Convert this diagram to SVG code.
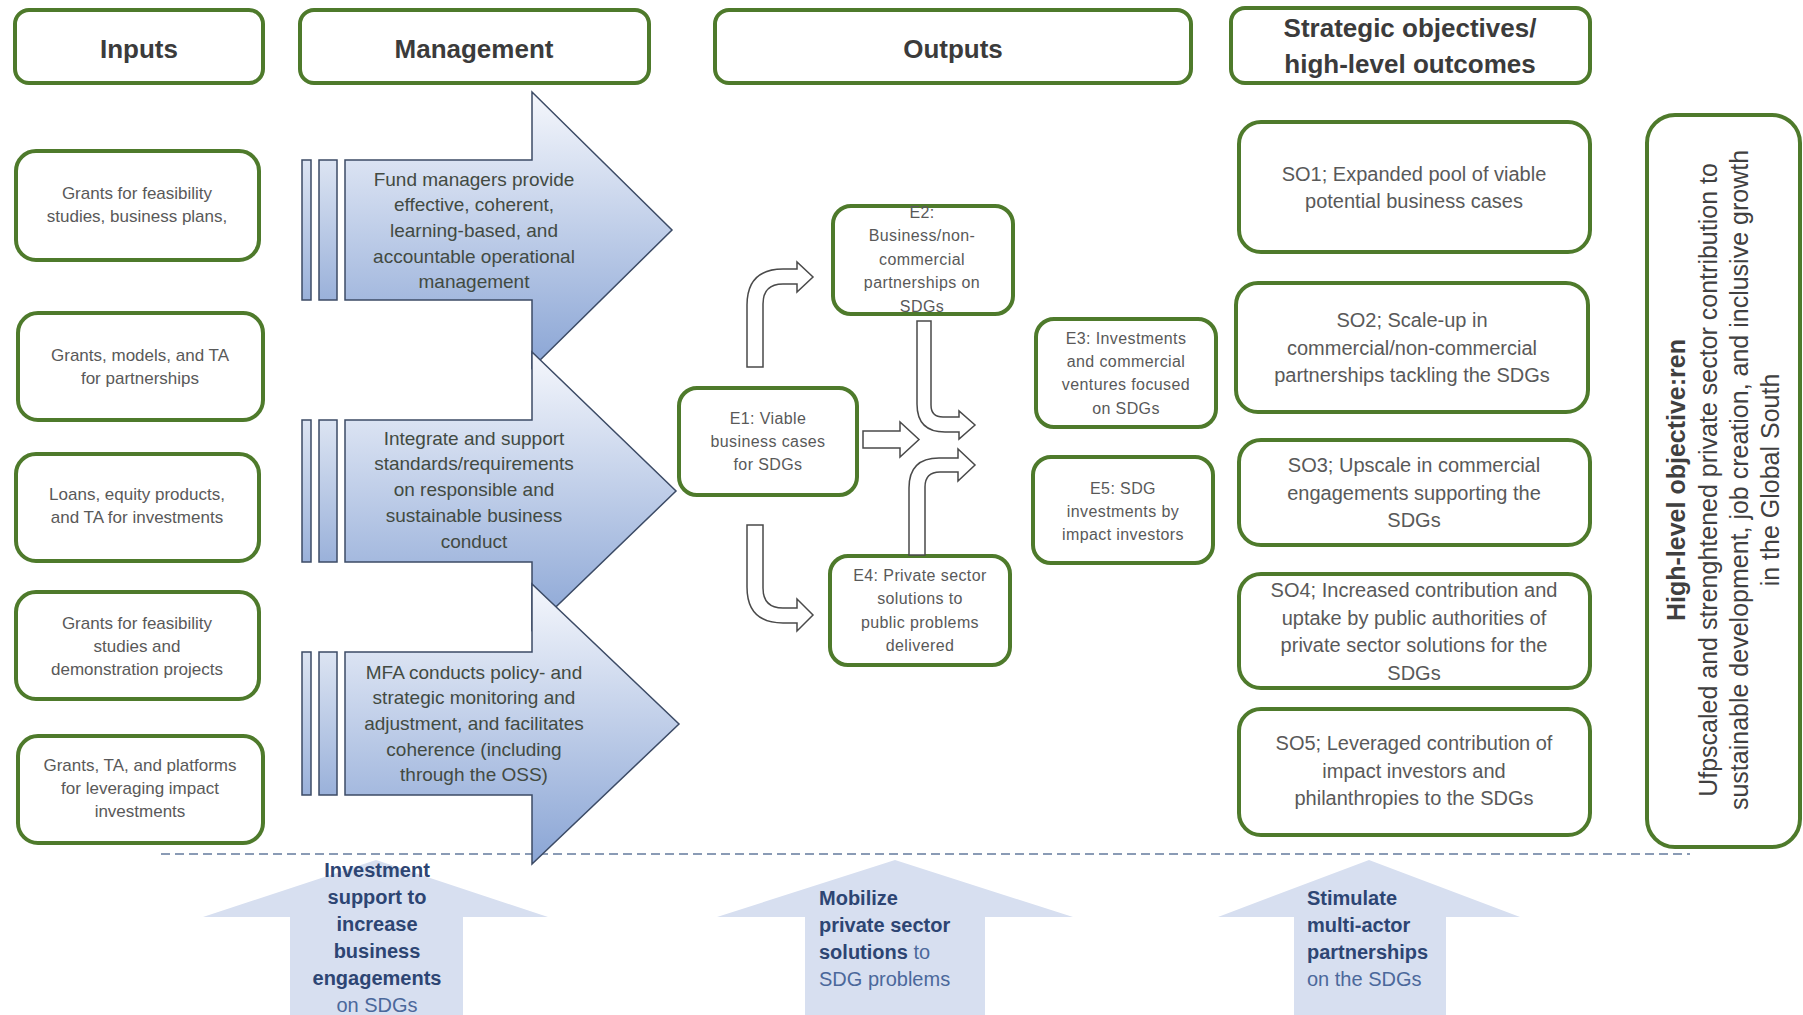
<svg xmlns="http://www.w3.org/2000/svg" width="1803" height="1015" viewBox="0 0 1803 1015">
<defs>
<linearGradient id="mgmtGrad" x1="0" y1="0" x2="0" y2="1">
<stop offset="0" stop-color="#f5f7fc"/>
<stop offset="1" stop-color="#8aa5d5"/>
</linearGradient>
<linearGradient id="barGrad" x1="0" y1="0" x2="0" y2="1">
<stop offset="0" stop-color="#dce4f2"/>
<stop offset="1" stop-color="#9ab1da"/>
</linearGradient>
<style>
.box{fill:#ffffff;stroke:#4e7a2b;stroke-width:4}
.hdr{font-family:"Liberation Sans",Arial,sans-serif;font-weight:bold;font-size:26px;fill:#3b3b3b;text-anchor:middle}
.inp{font-family:"Liberation Sans",Arial,sans-serif;font-size:17px;fill:#595959;text-anchor:middle}
.eb{font-family:"Liberation Sans",Arial,sans-serif;font-size:16px;letter-spacing:0.4px;fill:#595959;text-anchor:middle}
.so{font-family:"Liberation Sans",Arial,sans-serif;font-size:20px;fill:#595959;text-anchor:middle}
.mg{fill:url(#mgmtGrad);stroke:#3c4b66;stroke-width:1.5}
.bar{fill:url(#barGrad);stroke:#3c4b66;stroke-width:1.5}
.mgt{font-family:"Liberation Sans",Arial,sans-serif;font-size:19px;fill:#424a42;text-anchor:middle}
.conn{fill:#ffffff;stroke:#4a4a4a;stroke-width:1.5;stroke-linejoin:miter}
.bot{fill:#d7dff0}
.bt{font-family:"Liberation Sans",Arial,sans-serif;font-size:20px;fill:#4b689b}
.bb{font-weight:bold;fill:#2d4573}
.hl{font-family:"Liberation Sans",Arial,sans-serif;font-size:25px;fill:#404040;text-anchor:middle}
</style>
</defs>
<rect width="1803" height="1015" fill="#ffffff"/>

<!-- headers -->
<g id="hdr-inputs"><rect class="box" x="15" y="10" width="248" height="73" rx="14"/><text class="hdr" x="139" y="58">Inputs</text></g>
<g id="hdr-management"><rect class="box" x="300" y="10" width="349" height="73" rx="14"/><text class="hdr" x="474" y="58">Management</text></g>
<g id="hdr-outputs"><rect class="box" x="715" y="10" width="476" height="73" rx="14"/><text class="hdr" x="953" y="58">Outputs</text></g>
<g id="hdr-strategic"><rect class="box" x="1231" y="8" width="359" height="75" rx="14"/><text class="hdr" x="1410" y="37">Strategic objectives/</text><text class="hdr" x="1410" y="73">high-level outcomes</text></g>

<!-- inputs -->
<g id="in1"><rect class="box" x="16" y="151" width="243" height="109" rx="20"/><text class="inp" x="137" y="199">Grants for feasibility</text><text class="inp" x="137" y="222">studies, business plans,</text></g>
<g id="in2"><rect class="box" x="18" y="313" width="245" height="107" rx="20"/><text class="inp" x="140" y="361">Grants, models, and TA</text><text class="inp" x="140" y="384">for partnerships</text></g>
<g id="in3"><rect class="box" x="16" y="454" width="243" height="107" rx="20"/><text class="inp" x="137" y="500">Loans, equity products,</text><text class="inp" x="137" y="523">and TA for investments</text></g>
<g id="in4"><rect class="box" x="16" y="592" width="243" height="107" rx="20"/><text class="inp" x="137" y="629">Grants for feasibility</text><text class="inp" x="137" y="652">studies and</text><text class="inp" x="137" y="675">demonstration projects</text></g>
<g id="in5"><rect class="box" x="18" y="736" width="245" height="107" rx="20"/><text class="inp" x="140" y="771">Grants, TA, and platforms</text><text class="inp" x="140" y="794">for leveraging impact</text><text class="inp" x="140" y="817">investments</text></g>

<!-- dashed separator -->
<line x1="161" y1="854" x2="1690" y2="854" stroke="#8a9bb5" stroke-width="2" stroke-dasharray="9 5"/>

<!-- bottom arrows -->
<g id="bot1"><polygon class="bot" points="376,860 548,917 463,917 463,1020 290,1020 290,917 203,917"/>
<text class="bt" text-anchor="middle"><tspan class="bb" x="377" y="877">Investment</tspan><tspan class="bb" x="377" y="904">support to</tspan><tspan class="bb" x="377" y="931">increase</tspan><tspan class="bb" x="377" y="958">business</tspan><tspan class="bb" x="377" y="985">engagements</tspan><tspan x="377" y="1012">on SDGs</tspan></text></g>
<g id="bot2"><polygon class="bot" points="895,860 1073,917 985,917 985,1020 805,1020 805,917 717,917"/>
<text class="bt"><tspan class="bb" x="819" y="905">Mobilize</tspan><tspan class="bb" x="819" y="932">private sector</tspan><tspan class="bb" x="819" y="959">solutions</tspan><tspan> to</tspan><tspan x="819" y="986">SDG problems</tspan></text></g>
<g id="bot3"><polygon class="bot" points="1369,860 1520,917 1446,917 1446,1020 1294,1020 1294,917 1218,917"/>
<text class="bt"><tspan class="bb" x="1307" y="905">Stimulate</tspan><tspan class="bb" x="1307" y="932">multi-actor</tspan><tspan class="bb" x="1307" y="959">partnerships</tspan><tspan x="1307" y="986">on the SDGs</tspan></text></g>

<!-- management arrows -->
<g id="mgmt1">
<rect class="bar" x="302" y="160" width="9" height="140"/><rect class="bar" x="319" y="160" width="18" height="140"/>
<path class="mg" d="M345 160 L532 160 L532 92 L672 230 L532 368 L532 300 L345 300 Z"/>
<text class="mgt"><tspan x="474" y="186">Fund managers provide</tspan><tspan x="474" y="211">effective, coherent,</tspan><tspan x="474" y="237">learning-based, and</tspan><tspan x="474" y="263">accountable operational</tspan><tspan x="474" y="288">management</tspan></text>
</g>
<g id="mgmt2">
<rect class="bar" x="302" y="420" width="9" height="142"/><rect class="bar" x="319" y="420" width="18" height="142"/>
<path class="mg" d="M345 420 L532 420 L532 352 L676 491 L532 630 L532 562 L345 562 Z"/>
<text class="mgt"><tspan x="474" y="445">Integrate and support</tspan><tspan x="474" y="470">standards/requirements</tspan><tspan x="474" y="496">on responsible and</tspan><tspan x="474" y="522">sustainable business</tspan><tspan x="474" y="548">conduct</tspan></text>
</g>
<g id="mgmt3">
<rect class="bar" x="302" y="652" width="9" height="143"/><rect class="bar" x="319" y="652" width="18" height="143"/>
<path class="mg" d="M345 652 L532 652 L532 584 L679 724 L532 864 L532 795 L345 795 Z"/>
<text class="mgt"><tspan x="474" y="679">MFA conducts policy- and</tspan><tspan x="474" y="704">strategic monitoring and</tspan><tspan x="474" y="730">adjustment, and facilitates</tspan><tspan x="474" y="756">coherence (including</tspan><tspan x="474" y="781">through the OSS)</tspan></text>
</g>

<!-- output boxes -->
<g id="E1"><rect class="box" x="679" y="388" width="178" height="107" rx="18"/><text class="eb" x="768" y="424">E1: Viable</text><text class="eb" x="768" y="447">business cases</text><text class="eb" x="768" y="470">for SDGs</text></g>
<g id="E2"><rect class="box" x="833" y="206" width="180" height="108" rx="18"/><text class="eb" x="922" y="218">E2:</text><text class="eb" x="922" y="241">Business/non-</text><text class="eb" x="922" y="265">commercial</text><text class="eb" x="922" y="288">partnerships on</text><text class="eb" x="922" y="312">SDGs</text></g>
<g id="E3"><rect class="box" x="1036" y="319" width="180" height="108" rx="18"/><text class="eb" x="1126" y="344">E3: Investments</text><text class="eb" x="1126" y="367">and commercial</text><text class="eb" x="1126" y="390">ventures focused</text><text class="eb" x="1126" y="414">on SDGs</text></g>
<g id="E5"><rect class="box" x="1033" y="457" width="180" height="106" rx="18"/><text class="eb" x="1123" y="494">E5: SDG</text><text class="eb" x="1123" y="517">investments by</text><text class="eb" x="1123" y="540">impact investors</text></g>
<g id="E4"><rect class="box" x="830" y="556" width="180" height="109" rx="18"/><text class="eb" x="920" y="581">E4: Private sector</text><text class="eb" x="920" y="604">solutions to</text><text class="eb" x="920" y="628">public problems</text><text class="eb" x="920" y="651">delivered</text></g>

<!-- connectors -->
<g id="connectors">
<path class="conn" d="M747 367 L747 305 Q747 269 783 269 L797 269 L797 262 L813 277 L797 292 L797 284 L783 284 Q763 284 763 304 L763 367 Z"/>
<path class="conn" d="M747 525 L763 525 L763 588 Q763 608 783 608 L797 608 L797 599 L813 615 L797 631 L797 623 L783 623 Q747 623 747 587 Z"/>
<path class="conn" d="M863 431 L900 431 L900 422 L919 439.5 L900 457 L900 448 L863 448 Z"/>
<path class="conn" d="M917 321 L931 321 L931 405 Q931 417 943 417 L959 417 L959 411 L975 425 L959 439 L959 432 L945 432 Q917 432 917 404 Z"/>
<path class="conn" d="M909 555 L909 488 Q909 458 939 458 L958 458 L958 449 L975 465 L958 481 L958 472 L940 472 Q925 472 925 487 L925 555 Z"/>
</g>

<!-- strategic objectives -->
<g id="SO1"><rect class="box" x="1239" y="122" width="351" height="130" rx="22"/><text class="so" x="1414" y="181">SO1; Expanded pool of viable</text><text class="so" x="1414" y="208">potential business cases</text></g>
<g id="SO2"><rect class="box" x="1236" y="283" width="352" height="129" rx="22"/><text class="so" x="1412" y="327">SO2; Scale-up in</text><text class="so" x="1412" y="355">commercial/non-commercial</text><text class="so" x="1412" y="382">partnerships tackling the SDGs</text></g>
<g id="SO3"><rect class="box" x="1239" y="440" width="351" height="105" rx="22"/><text class="so" x="1414" y="472">SO3; Upscale in commercial</text><text class="so" x="1414" y="500">engagements supporting the</text><text class="so" x="1414" y="527">SDGs</text></g>
<g id="SO4"><rect class="box" x="1239" y="574" width="351" height="114" rx="22"/><text class="so" x="1414" y="597">SO4; Increased contribution and</text><text class="so" x="1414" y="625">uptake by public authorities of</text><text class="so" x="1414" y="652">private sector solutions for the</text><text class="so" x="1414" y="680">SDGs</text></g>
<g id="SO5"><rect class="box" x="1239" y="709" width="351" height="126" rx="22"/><text class="so" x="1414" y="750">SO5; Leveraged contribution of</text><text class="so" x="1414" y="778">impact investors and</text><text class="so" x="1414" y="805">philanthropies to the SDGs</text></g>

<!-- high-level objective -->
<g id="high-level">
<rect class="box" x="1647" y="115" width="153" height="732" rx="28"/>
<text class="hl" font-weight="bold" font-size="24" transform="translate(1685 480) rotate(-90)">High-level objective:ren</text>
<text class="hl" transform="translate(1717 480) rotate(-90)">Ufpscaled and strenghtened private sector contribution to</text>
<text class="hl" transform="translate(1748 480) rotate(-90)">sustainable development, job creation, and inclusive growth</text>
<text class="hl" transform="translate(1779 480) rotate(-90)">in the Global South</text>
</g>
</svg>
